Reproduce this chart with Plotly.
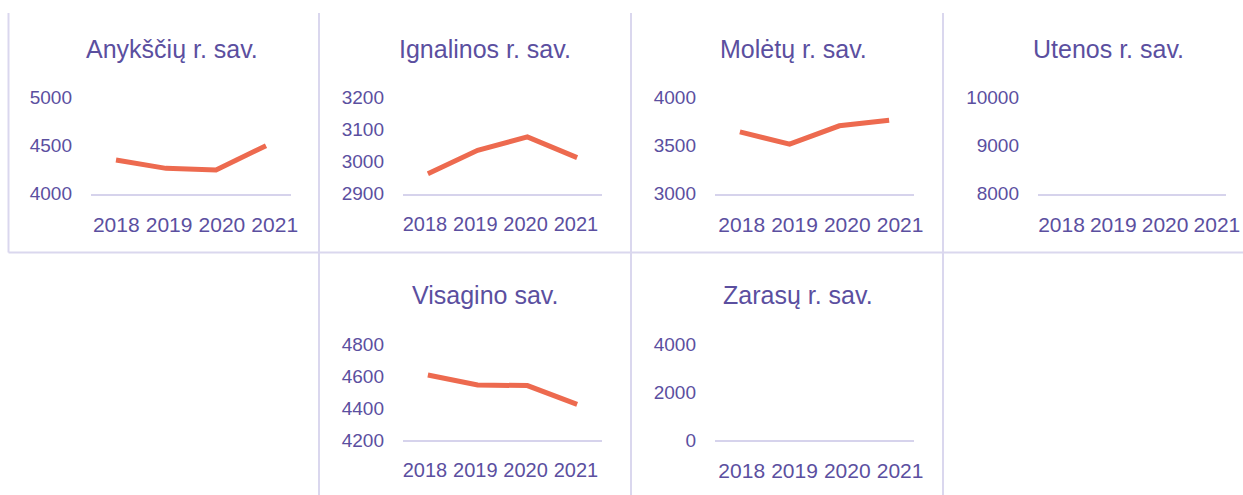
import plotly.graph_objects as go

W, H = 1243, 495

years = [2018, 2019, 2020, 2021]
year_labels = ["2018", "2019", "2020", "2021"]

titles = ["Anykščių r. sav.", "Ignalinos r. sav.", "Molėtų r. sav.",
          "Utenos r. sav.", "Visagino sav.", "Zarasų r. sav."]

anyksciu = [4349, 4262, 4245, 4498]
ignalinos = [2962, 3035, 3077, 3012]
moletu = [3642, 3514, 3705, 3764]
utenos = [None, None, None, None]
visagino = [4606, 4544, 4540, 4423]
zarasu = [None, None, None, None]
series = [anyksciu, ignalinos, moletu, utenos, visagino, zarasu]

y_ranges = [(4000, 5000), (2900, 3200), (3000, 4000), (8000, 10000), (4200, 4800), (0, 4000)]
y_dticks = [500, 100, 500, 1000, 200, 2000]

# layout (pixels)
x_dom_px = [(91, 291), (403, 602), (715, 914), (1038, 1226), (403, 602), (715, 914)]
row_px = [(97.5, 193.5), (97.5, 193.5), (97.5, 193.5), (97.5, 193.5), (344, 440), (344, 440)]
lab_off = [25.3, 22, 26.7, 23.5, 22, 26.7]
lab_step = [52.8, 50.3, 52.8, 51.8, 50.3, 52.8]
lab_font = [21, 20, 21, 21, 20, 21]
title_pos = [(172, 49.5), (485, 49.5), (793, 49.5), (1108, 49.5), (485, 294.5), (797.5, 294.5)]

TXT = "#5b4f9f"
LINE = "#ed6a4f"
SEP = "#dad7ee"
AX = "#d6d3ec"
FONT = "Liberation Sans, Arial, sans-serif"

fig = go.Figure()
layout = dict(width=W, height=H, margin=dict(l=0, r=0, t=0, b=0, autoexpand=False),
              paper_bgcolor="white", plot_bgcolor="white", showlegend=False,
              font=dict(family=FONT, color=TXT))
annotations = []
for i in range(6):
    n = i + 1
    sfx = "" if n == 1 else str(n)
    x0, x1 = x_dom_px[i]
    yt, yb = row_px[i]
    fig.add_trace(go.Scatter(x=years, y=series[i], mode="lines",
                             line=dict(color=LINE, width=5),
                             xaxis="x" + sfx, yaxis="y" + sfx, hoverinfo="skip"))
    layout["xaxis" + sfx] = dict(domain=[x0 / W, x1 / W], range=[2017.5, 2021.5],
                                 anchor="y" + sfx, showgrid=False, zeroline=False,
                                 showline=True, linecolor=AX, linewidth=2,
                                 showticklabels=False, ticks="", fixedrange=True,
                                 automargin=False)
    # label axis
    wpx = x1 - x0
    span = wpx / lab_step[i]
    r0 = 2018 - lab_off[i] / lab_step[i]
    m = n + 6
    layout["xaxis" + str(m)] = dict(overlaying="x" + sfx, anchor="y" + sfx,
                                    range=[r0, r0 + span], tickmode="array",
                                    tickvals=years, ticktext=year_labels, tickangle=0,
                                    showgrid=False, zeroline=False, showline=False,
                                    ticks="", ticklabelstandoff=16, automargin=False,
                                    ticklabeloverflow="allow",
                                    tickfont=dict(size=lab_font[i], color=TXT, family=FONT))
    layout["yaxis" + sfx] = dict(domain=[1 - yb / H, 1 - yt / H], range=list(y_ranges[i]),
                                 dtick=y_dticks[i], tick0=y_ranges[i][0], tickformat="d",
                                 anchor="x" + sfx, showgrid=False, zeroline=False,
                                 showline=False, ticks="", ticklabelstandoff=18,
                                 automargin=False,
                                 tickfont=dict(size=19, color=TXT, family=FONT))
    tx, ty = title_pos[i]
    annotations.append(dict(text=titles[i], x=tx / W, y=1 - ty / H, xref="paper",
                            yref="paper", xanchor="center", yanchor="middle",
                            showarrow=False, font=dict(size=25, color=TXT, family=FONT)))

# a dummy trace per label axis so that they render
for i in range(6):
    m = i + 7
    n = i + 1
    sfx = "" if n == 1 else str(n)
    fig.add_trace(go.Scatter(x=[None], y=[None], xaxis="x" + str(m), yaxis="y" + sfx,
                             hoverinfo="skip", showlegend=False))

shapes = []
def seg(xa, ya, xb, yb):
    shapes.append(dict(type="line", xref="paper", yref="paper",
                       x0=xa / W, y0=1 - ya / H, x1=xb / W, y1=1 - yb / H,
                       line=dict(color=SEP, width=2)))
seg(8.5, 13, 8.5, 252.5)
seg(319, 13, 319, 495)
seg(631, 13, 631, 495)
seg(943, 13, 943, 495)
seg(8.5, 252.5, 1243, 252.5)

layout["annotations"] = annotations
layout["shapes"] = shapes
fig.update_layout(**layout)
post = (
    "document.documentElement.style.margin='0';"
    "document.documentElement.style.overflow='hidden';"
    "document.body.style.margin='0';"
    "document.body.style.overflow='hidden';"
)
fig.write_html("out.html", config={"displayModeBar": False}, post_script=post)
